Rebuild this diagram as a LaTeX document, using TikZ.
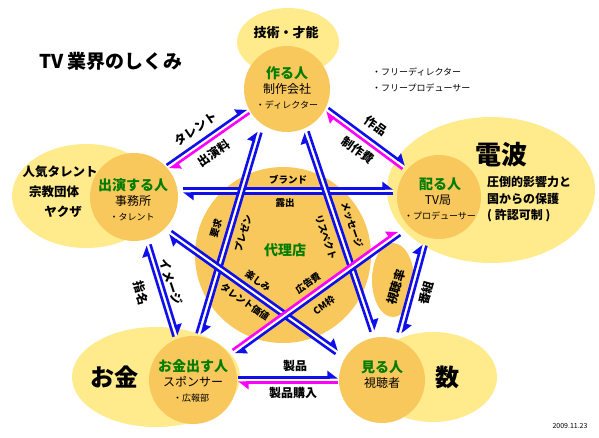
\documentclass[tikz,border=0pt]{standalone}
\usepackage{fontspec}
\setmainfont{Noto Sans CJK JP}
\usetikzlibrary{arrows.meta,calc}
\definecolor{ylw}{RGB}{255,234,140}
\definecolor{org}{RGB}{249,200,92}
\definecolor{grn}{RGB}{0,125,0}
\definecolor{blu}{RGB}{15,15,235}
\definecolor{mag}{RGB}{255,0,255}
\newcommand\myfs[1]{\fontsize{#1}{#1}\selectfont}
\newcommand\arr[3]{%
  \draw[#1, line width=2.6pt, -{Triangle[harpoon,length=9pt,width=13pt]}]
    ($(#2)!2.5pt!90:(#3)$) -- ($(#3)!2.5pt!-90:(#2)$);}
\newcommand\gap[2]{\draw[white, line width=2.4pt] (#1) -- (#2);}
\tikzset{
  ell/.style={fill=ylw, draw=none},
  circ/.style={fill=org, draw=none},
  ttl/.style={font=\myfs{14}\bfseries, text=grn, inner sep=0pt},
  sub/.style={font=\myfs{12}, inner sep=0pt},
  tiny/.style={font=\myfs{9}, inner sep=0pt},
  lab/.style={font=\myfs{12}\bfseries, inner sep=0pt},
  slab/.style={font=\myfs{9.5}\bfseries, inner sep=0pt},
}
\begin{document}
\begin{tikzpicture}[x=1pt,y=-1pt]
\fill[white] (0,0) rectangle (599,437);
\useasboundingbox (0,0) rectangle (599,437);
% ellipses
\fill[ell] (288,42) ellipse [x radius=51, y radius=34];
\fill[ell] (86,196) ellipse [x radius=74, y radius=52];
\fill[ell] (491,190) ellipse [x radius=104, y radius=73];
\fill[ell] (156,377) ellipse [x radius=84, y radius=50];
\fill[ell] (433,377) ellipse [x radius=64, y radius=45];
% circles
\fill[circ] (283,255) circle [radius=88];
\fill[circ] (393,280) ellipse [x radius=21, y radius=37];
\fill[circ] (287,89) circle [radius=43];
\fill[circ] (134,197) circle [radius=44];
\fill[circ] (439,197) circle [radius=42];
\fill[circ] (193,380) circle [radius=44];
\fill[circ] (382,380) circle [radius=43];
% node texts
\node[font=\myfs{19}\bfseries, inner sep=0pt] (title) at (111,61) {TV 業界のしくみ};
\node[font=\myfs{13}\bfseries, inner sep=0pt] (gijutsu) at (286,33) {技術・才能};
\node[tiny, anchor=west] (free1) at (372,72) {・フリーディレクター};
\node[tiny, anchor=west] (free2) at (372,88) {・フリープロデューサー};

\node[ttl] (tsukuru) at (287,73) {作る人};
\node[sub] (seisaku) at (287,89) {制作会社};
\node[tiny] (dir) at (287,105) {・ディレクター};

\node[ttl] (shutsuen) at (133,185) {出演する人};
\node[sub] (jimusho) at (133,201) {事務所};
\node[tiny] (talent) at (132,217) {・タレント};
\node[font=\myfs{12.5}\bfseries, inner sep=0pt] (ninki) at (60,172) {人気タレント};
\node[font=\myfs{12.5}\bfseries, inner sep=0pt] (shukyo) at (54,192) {宗教団体};
\node[font=\myfs{12.5}\bfseries, inner sep=0pt] (yakuza) at (63,212) {ヤクザ};

\node[ttl] (kubaru) at (440,184) {配る人};
\node[sub] (tvkyoku) at (438,200) {TV局};
\node[tiny] (prod) at (440,216) {・プロデューサー};
\node[font=\myfs{26}\bfseries, inner sep=0pt] (denpa) at (501,155) {電波};
\node[font=\myfs{12}\bfseries, inner sep=0pt, anchor=west] (atto) at (487,182) {圧倒的影響力と};
\node[font=\myfs{12}\bfseries, inner sep=0pt, anchor=west] (kuni) at (487,199) {国からの保護};
\node[font=\myfs{12}\bfseries, inner sep=0pt, anchor=west] (kyoka) at (487,216) {( 許認可制 )};

\node[ttl] (okane) at (193,366) {お金出す人};
\node[sub] (sponsor) at (193,382) {スポンサー};
\node[tiny] (koho) at (191,398) {・広報部};
\node[font=\myfs{24}\bfseries, inner sep=0pt] (okanebig) at (114,377) {お金};

\node[ttl] (miru) at (382,367) {見る人};
\node[sub] (shichosha) at (382,383) {視聴者};
\node[font=\myfs{24}\bfseries, inner sep=0pt] (kazu) at (447,377) {数};
\node[font=\myfs{7}, inner sep=0pt] (date) at (570,426) {2009.11.23};

\node[ttl] (dairiten) at (285,250) {代理店};

% endpoints
\coordinate (p1a) at (168,167); \coordinate (p1b) at (248,111);
\coordinate (p2a) at (327,110); \coordinate (p2b) at (404,167);
\coordinate (p3a) at (424,245); \coordinate (p3b) at (400,333);
\coordinate (p4a) at (238,380); \coordinate (p4b) at (338,380);
\coordinate (p5a) at (148,245); \coordinate (p5b) at (176,336);
\coordinate (sa1) at (183,191); \coordinate (sa2) at (393,191);
\coordinate (sb1) at (259,132); \coordinate (sb2) at (199,334);
\coordinate (sc1) at (306,132); \coordinate (sc2) at (373,331);
\coordinate (sd1) at (170,233); \coordinate (sd2) at (337,352);
\coordinate (se1) at (234,352); \coordinate (se2) at (399,233);

% star lines
\gap{sa1}{sa2} \arr{blu}{sa1}{sa2} \arr{blu}{sa2}{sa1}
\gap{sb1}{sb2} \arr{blu}{sb2}{sb1} \arr{blu}{sb1}{sb2}
\gap{sc1}{sc2} \arr{blu}{sc2}{sc1} \arr{blu}{sc1}{sc2}
\gap{sd1}{sd2} \arr{blu}{sd1}{sd2} \arr{blu}{sd2}{sd1}
\gap{se1}{se2} \arr{mag}{se1}{se2} \arr{blu}{se2}{se1}
% pentagon pairs
\gap{p1a}{p1b} \arr{blu}{p1a}{p1b} \arr{mag}{p1b}{p1a}
\gap{p2a}{p2b} \arr{blu}{p2a}{p2b} \arr{mag}{p2b}{p2a}
\gap{p3a}{p3b} \arr{blu}{p3b}{p3a} \arr{blu}{p3a}{p3b}
\gap{p4a}{p4b} \arr{blu}{p4a}{p4b} \arr{mag}{p4b}{p4a}
\gap{p5a}{p5b} \arr{blu}{p5b}{p5a} \arr{blu}{p5a}{p5b}

% labels
\node[lab, rotate=35] (l1) at (196,129) {タレント};
\node[lab, rotate=35] (l2) at (214,153) {出演料};
\node[lab, rotate=-36] (l3) at (376,126) {作品};
\node[lab, rotate=-36] (l4) at (358,150) {制作費};
\node[lab, rotate=74] (l5) at (396,287) {視聴率};
\node[lab, rotate=74] (l6) at (426,293) {番組};
\node[lab] (l7) at (295,366) {製品};
\node[lab] (l8) at (293,393) {製品購入};
\node[lab, rotate=-74] (l9) at (141,293) {指名};
\node[lab, rotate=-72] (l10) at (171,282) {イメージ};
\node[slab] (s1) at (288,180) {ブランド};
\node[slab] (s2) at (285,203) {露出};
\node[slab, rotate=73] (s3) at (216,228) {要求};
\node[slab, rotate=73] (s4) at (243,233) {プレゼン};
\node[slab, rotate=-71] (s5) at (326,237) {リスペクト};
\node[slab, rotate=-71] (s6) at (352,225) {メッセージ};
\node[slab, rotate=-35] (s7) at (258,281) {楽しみ};
\node[slab, rotate=-35] (s8) at (245,302) {タレント価値};
\node[slab, rotate=36] (s9) at (308,283) {広告費};
\node[slab, rotate=36] (s10) at (324,305) {CM枠};
\end{tikzpicture}
\end{document}
